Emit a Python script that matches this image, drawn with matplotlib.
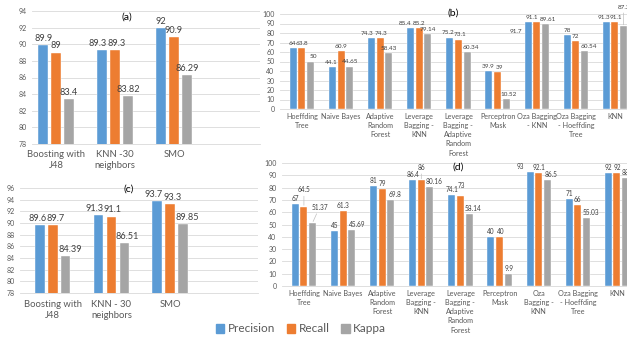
import numpy as np
import matplotlib
matplotlib.use("Agg")
import matplotlib.pyplot as plt

plt.rcParams['font.family'] = ['Lato', 'DejaVu Sans']

# ---- data ----
series = ["Precision", "Recall", "Kappa"]
colors = ["#5B9BD5", "#ED7D31", "#A5A5A5"]

cats_a = ["Boosting with\nJ48", "KNN -30\nneighbors", "SMO"]
prec_a = [89.9, 89.3, 92]
rec_a = [89, 89.3, 90.9]
kap_a = [83.4, 83.82, 86.29]

cats_c = ["Boosting with\nJ48", "KNN - 30\nneighbors", "SMO"]
prec_c = [89.6, 91.3, 93.7]
rec_c = [89.7, 91.1, 93.3]
kap_c = [84.39, 86.51, 89.85]

cats_b = ["Hoeffding\nTree", "Naive Bayes", "Adaptive\nRandom\nForest",
          "Leverage\nBagging -\nKNN", "Leverage\nBagging -\nAdaptive\nRandom\nForest",
          "Perceptron\nMask", "Oza Bagging\n- KNN", "Oza Bagging\n- Hoeffding\nTree", "KNN"]
prec_b = [64, 44.1, 74.3, 85.4, 75.2, 39.9, 91.7, 78, 91.3]
rec_b = [63.8, 60.9, 74.3, 85.2, 73.1, 39, 91.1, 72, 91.1]
kap_b = [50, 44.65, 58.43, 79.14, 60.34, 10.52, 89.61, 60.54, 87.2]

cats_d = ["Hoeffding\nTree", "Naive Bayes", "Adaptive\nRandom\nForest",
          "Leverage\nBagging -\nKNN", "Leverage\nBagging -\nAdaptive\nRandom\nForest",
          "Perceptron\nMask", "Oza\nBagging -\nKNN", "Oza Bagging\n- Hoeffding\nTree", "KNN"]
prec_d = [67, 45, 81, 86.4, 74.1, 40, 93, 71, 92]
rec_d = [64.5, 61.3, 79, 86, 73, 40, 92.1, 66, 92]
kap_d = [51.37, 45.69, 69.8, 80.16, 58.14, 9.9, 86.5, 55.03, 88]

GRID = "#D9D9D9"
TXT = "#595959"
W, H = 627, 340


def px_axes(fig, left, top, right, bottom):
    # axes box given in pixel coords (y measured from the top)
    return fig.add_axes([left / W, 1 - bottom / H, (right - left) / W, (bottom - top) / H])


def draw_panel(ax, cats, vals, xlim, ylim, yticks, bw, off, tick_fs, cat_fs, lab_fs,
               title, title_xy, nudges, cat_pad, linesp):
    x = np.arange(len(cats))
    for i, (v, c) in enumerate(zip(vals, colors)):
        ax.bar(x + (i - 1) * off, v, width=bw, color=c, edgecolor="white",
               linewidth=0.3, zorder=3)
        for j, val in enumerate(v):
            dx, dy = nudges.get((j, i), (0, 0))
            txt = f"{val:g}"
            kw = dict(textcoords="offset points", ha="center", va="bottom",
                      fontsize=lab_fs, color="#404040")
            if dy > 4:
                kw["arrowprops"] = dict(arrowstyle="-", color="#BFBFBF", lw=0.5,
                                        shrinkA=0, shrinkB=1)
            ax.annotate(txt, (x[j] + (i - 1) * off, val), xytext=(dx, 1.5 + dy), **kw)
    ax.set_xlim(*xlim)
    ax.set_ylim(*ylim)
    ax.set_yticks(yticks)
    ax.set_xticks(x)
    ax.set_xticklabels(cats, fontsize=cat_fs, color=TXT, linespacing=linesp, va="top")
    ax.tick_params(axis="y", labelsize=tick_fs, colors=TXT, length=0, pad=4)
    ax.tick_params(axis="x", length=0, pad=cat_pad)
    ax.grid(axis="y", color=GRID, lw=0.6, zorder=0)
    for s in ["top", "right", "left"]:
        ax.spines[s].set_visible(False)
    ax.spines["bottom"].set_color(GRID)
    ax.spines["bottom"].set_linewidth(0.6)
    ax.patch.set_alpha(0)
    ax.text(title_xy[0], title_xy[1], title, transform=ax.transAxes, fontsize=7.5,
            color="black", ha="center", va="center")


fig = plt.figure(figsize=(W / 100, H / 100), dpi=100)
fig.patch.set_facecolor("white")

# (a)
ax_a = px_axes(fig, 32, 11, 260, 144)
draw_panel(ax_a, cats_a, [prec_a, rec_a, kap_a], (-0.41, 3.46), (78, 94), range(78, 95, 2),
           0.17, 0.22, 5, 6.8, 6.6, "(a)", ((127 - 32) / 228, (144 - 17) / 133),
           {(1, 0): (-3, 0), (1, 1): (1, 0)}, 4, 1.35)

# (c)
ax_c = px_axes(fig, 20, 188, 258, 293)
draw_panel(ax_c, cats_c, [prec_c, rec_c, kap_c], (-0.56, 3.5), (78, 96), range(78, 97, 2),
           0.16, 0.22, 5, 6.8, 6.6, "(c)", ((129 - 20) / 238, (293 - 189) / 105),
           {(0, 0): (-2, 0), (0, 1): (2, 0), (0, 2): (3, 0), (1, 0): (-3, 0),
            (1, 1): (1, 0), (1, 2): (2, 0), (2, 0): (-2.5, 0), (2, 1): (1.5, 0),
            (2, 2): (3, 0)}, 5, 1.35)

# (b)
nud_b = {(6, 0): (-9, -10), (6, 1): (-3.5, 0), (6, 2): (2, 0), (8, 2): (0, 10),
         (0, 2): (2, 0), (3, 0): (-4, 0), (4, 2): (3, 0), (5, 2): (2, 0), (7, 2): (3, 0),
         (0, 0): (-1, 0), (8, 0): (-1.5, 0), (8, 1): (0.5, 0),
         (2, 0): (-3, 0), (2, 1): (0.5, 0), (4, 0): (-1.5, 0), (4, 1): (1, 0),
         (5, 0): (-1, 0), (5, 1): (1, 0), (1, 0): (-1, 0)}
ax_b = px_axes(fig, 280, 14, 640, 109)
draw_panel(ax_b, cats_b, [prec_b, rec_b, kap_b], (-0.56, 8.64), (0, 100), range(0, 101, 10),
           0.18, 0.22, 5, 5.2, 4.6, "(b)", ((453 - 280) / 360, (109 - 13) / 95),
           nud_b, 3, 1.35)

# (d)
nud_d = {(0, 1): (0, 8), (0, 2): (5, 7), (1, 2): (4, 0), (2, 2): (3, 0),
         (3, 1): (0, 5), (3, 2): (3, 0), (4, 1): (1, 4), (4, 2): (3, 0),
         (5, 2): (1, 0), (6, 0): (-7, 0), (6, 2): (3, 0), (7, 2): (3, 0),
         (5, 0): (-0.5, 0), (5, 1): (0.5, 0)}
ax_d = px_axes(fig, 282, 163, 642, 286)
draw_panel(ax_d, cats_d, [prec_d, rec_d, kap_d], (-0.56, 8.64), (0, 100), range(0, 101, 10),
           0.18, 0.22, 5, 5.2, 4.7, "(d)", ((458 - 282) / 360, (286 - 167) / 123),
           nud_d, 3, 1.35)

# shared legend
handles = [plt.Rectangle((0, 0), 1, 1, color=c) for c in colors]
fig.legend(handles, series, loc="center", bbox_to_anchor=(301 / W, 1 - 329 / H), ncol=3,
           frameon=False, fontsize=8.5, handlelength=0.7, handleheight=0.7,
           handletextpad=0.3, columnspacing=1.0, labelcolor=TXT)

fig.savefig("out.png", dpi=100)
